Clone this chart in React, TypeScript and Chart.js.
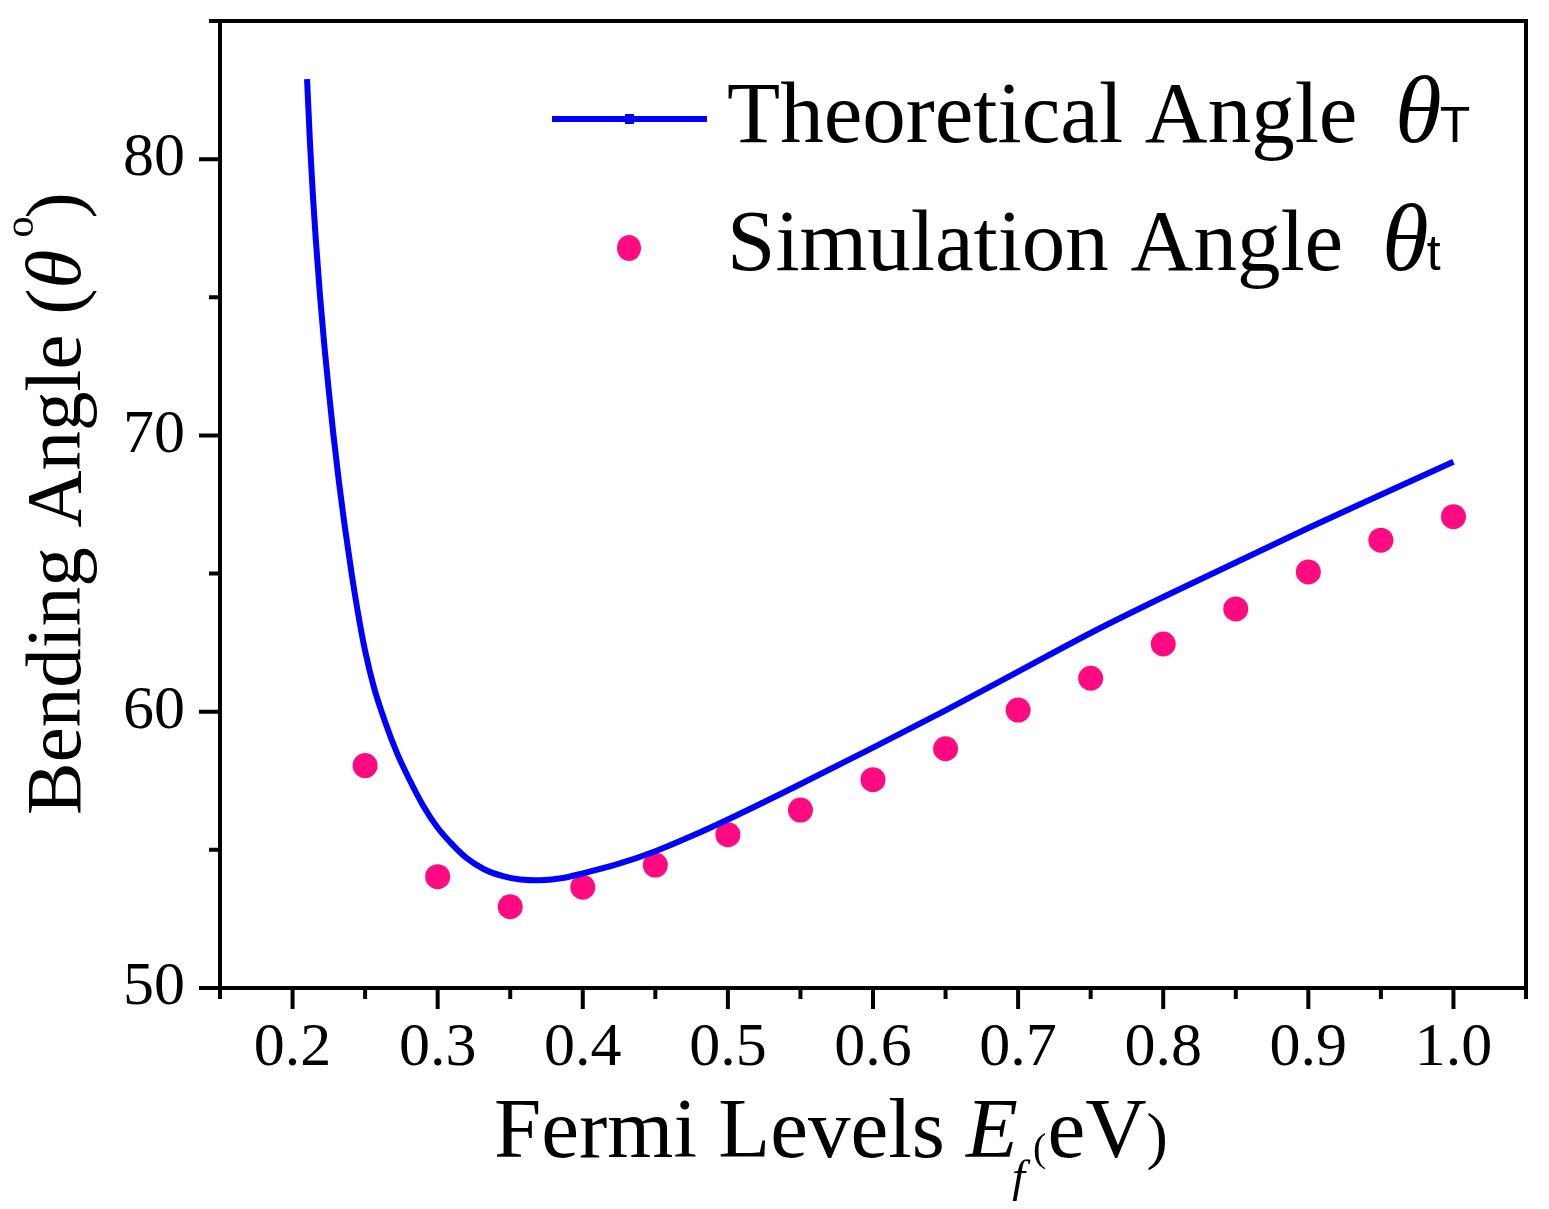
import React, { useEffect, useRef } from "react";
import { Chart, registerables } from "chart.js";

Chart.register(...registerables);

// Theoretical curve (Fermi level, bending angle)
const theoX = [0.21, 0.212, 0.214, 0.216, 0.219, 0.222, 0.225, 0.228, 0.232, 0.236, 0.241, 0.246, 0.25, 0.256, 0.264, 0.272, 0.28, 0.29, 0.3, 0.31, 0.32, 0.332, 0.345, 0.357, 0.37, 0.385, 0.4, 0.425, 0.45, 0.475, 0.5, 0.545, 0.6, 0.65, 0.7, 0.75, 0.8, 0.85, 0.9, 0.95, 1.0];
const theoY = [82.9, 80.6, 78.7, 77.1, 75.0, 73.2, 71.6, 70.1, 68.3, 66.7, 64.9, 63.3, 62.2, 60.9, 59.6, 58.5, 57.6, 56.6, 55.8, 55.2, 54.7, 54.3, 54.05, 53.93, 53.9, 53.97, 54.15, 54.5, 54.95, 55.5, 56.1, 57.25, 58.7, 60.05, 61.45, 62.85, 64.15, 65.4, 66.65, 67.85, 69.05];

// Simulation points
const simX = [0.25, 0.3, 0.35, 0.4, 0.45, 0.5, 0.55, 0.6, 0.65, 0.7, 0.75, 0.8, 0.85, 0.9, 0.95, 1.0];
const simY = [58.05, 54.03, 52.94, 53.65, 54.45, 55.55, 56.44, 57.54, 58.66, 60.06, 61.21, 62.45, 63.72, 65.06, 66.21, 67.06];

// Ticks
const xTickValues = [0.2, 0.3, 0.4, 0.5, 0.6, 0.7, 0.8, 0.9, 1.0];
const xMinorValues = [0.15, 0.25, 0.35, 0.45, 0.55, 0.65, 0.75, 0.85, 0.95, 1.05];
const yTickValues = [50, 60, 70, 80];
const yMinorValues = [55, 65, 75, 85];

const SERIF = '"Liberation Serif", "Times New Roman", serif';
const SANS = '"Liberation Sans", Arial, sans-serif';

export default function App() {
  const ref = useRef<HTMLCanvasElement>(null);

  useEffect(() => {
    const canvas = ref.current;
    if (!canvas) return;

    const decorPlugin = {
      id: "decor",
      afterDraw(chart: any) {
        const { ctx, chartArea: a, scales } = chart;
        const xs = scales.x;
        const ys = scales.y;
        ctx.save();
        ctx.strokeStyle = "#000";
        ctx.lineWidth = 4;
        ctx.lineCap = "butt";
        // frame
        ctx.strokeRect(a.left, a.top, a.right - a.left, a.bottom - a.top);
        // ticks
        ctx.beginPath();
        xTickValues.forEach((v) => {
          const p = xs.getPixelForValue(v);
          ctx.moveTo(p, a.bottom);
          ctx.lineTo(p, a.bottom + 21);
        });
        xMinorValues.forEach((v) => {
          const p = xs.getPixelForValue(v);
          ctx.moveTo(p, a.bottom);
          ctx.lineTo(p, a.bottom + 11);
        });
        yTickValues.forEach((v) => {
          const p = ys.getPixelForValue(v);
          ctx.moveTo(a.left, p);
          ctx.lineTo(a.left - 21, p);
        });
        yMinorValues.forEach((v) => {
          const p = ys.getPixelForValue(v);
          ctx.moveTo(a.left, p);
          ctx.lineTo(a.left - 11, p);
        });
        ctx.stroke();

        ctx.fillStyle = "#000";
        ctx.textBaseline = "alphabetic";
        ctx.textAlign = "left";

        // X axis title
        {
          let x = 486;
          const base = 1149;
          ctx.font = `85px ${SERIF}`;
          ctx.fillText("Fermi Levels ", x, base);
          x += ctx.measureText("Fermi Levels ").width;
          ctx.font = `italic 85px ${SERIF}`;
          ctx.fillText("E", x, base);
          x += ctx.measureText("E").width;
          ctx.font = `italic 47px ${SERIF}`;
          ctx.fillText("f", x - 6, base + 35);
          x += ctx.measureText("f").width + 2;
          ctx.font = `40px ${SERIF}`;
          ctx.fillText("(", x, base + 4);
          x += ctx.measureText("(").width + 1;
          ctx.font = `85px ${SERIF}`;
          ctx.fillText("eV", x, base);
          x += ctx.measureText("eV").width;
          ctx.font = `64px ${SERIF}`;
          ctx.fillText(")", x, base);
        }

        // Y axis title (rotated)
        {
          ctx.save();
          ctx.translate(72, 807);
          ctx.rotate(-Math.PI / 2);
          let x = 0;
          ctx.font = `79px ${SERIF}`;
          ctx.fillText("Bending Angle (", x, 0);
          x += ctx.measureText("Bending Angle (").width;
          ctx.font = `italic 79px ${SERIF}`;
          ctx.fillText("\u03B8", x, 0);
          x += ctx.measureText("\u03B8").width + 12;
          ctx.font = `42px ${SERIF}`;
          ctx.fillText("o", x, -47);
          x += ctx.measureText("o").width - 2;
          ctx.font = `79px ${SERIF}`;
          ctx.fillText(")", x, 0);
          ctx.restore();
        }

        // Legend
        {
          ctx.strokeStyle = "#0000FF";
          ctx.lineWidth = 6;
          ctx.beginPath();
          ctx.moveTo(544, 111);
          ctx.lineTo(699, 111);
          ctx.stroke();
          ctx.fillStyle = "#0000FF";
          ctx.fillRect(617, 106, 9, 10);
          ctx.fillStyle = "#FF0A80";
          ctx.beginPath();
          ctx.ellipse(621, 240, 12, 13, 0, 0, Math.PI * 2);
          ctx.fill();

          ctx.fillStyle = "#000";
          const rows: [string, string, number, number][] = [
            ["Theoretical Angle ", "T", 134, 1387],
            ["Simulation Angle ", "t", 262, 1374],
          ];
          rows.forEach(([txt, sub, base, thetaX]) => {
            ctx.font = `87px ${SERIF}`;
            ctx.fillText(txt, 719, base);
            let x = Math.max(thetaX, 719 + ctx.measureText(txt).width);
            ctx.font = `italic 95px ${SERIF}`;
            ctx.fillText("\u03B8", x, base);
            x += ctx.measureText("\u03B8").width - 2;
            ctx.font = `50px ${SANS}`;
            ctx.fillText(sub, x, base);
          });
        }
        ctx.restore();
      },
    };

    const chart = new Chart(canvas, {
      type: "scatter",
      data: {
        datasets: [
          {
            label: "Theoretical Angle θT",
            data: theoX.map((x, i) => ({ x, y: theoY[i] })),
            showLine: true,
            borderColor: "#0000FF",
            backgroundColor: "#0000FF",
            borderWidth: 6,
            pointRadius: 0,
            cubicInterpolationMode: "monotone",
            fill: false,
          },
          {
            label: "Simulation Angle θt",
            data: simX.map((x, i) => ({ x, y: simY[i] })),
            showLine: false,
            pointRadius: 12.5,
            pointBackgroundColor: "#FF0A80",
            pointBorderWidth: 0,
            pointBorderColor: "#FF0A80",
          },
        ],
      },
      options: {
        animation: false,
        responsive: false,
        devicePixelRatio: 1,
        layout: { padding: { top: 13, right: 15, left: 0, bottom: 0 } },
        plugins: { legend: { display: false }, tooltip: { enabled: false } },
        scales: {
          x: {
            type: "linear",
            min: 0.15,
            max: 1.05,
            grid: { display: false, drawTicks: false },
            border: { display: false },
            afterBuildTicks: (s: any) => {
              s.ticks = xTickValues.map((v) => ({ value: v }));
            },
            afterFit: (s: any) => {
              s.height = 213;
              s.paddingLeft = 0;
              s.paddingRight = 0;
            },
            ticks: {
              callback: (v: any) => Number(v).toFixed(1),
              font: { family: SERIF, size: 62 },
              color: "#000",
              padding: 24,
              maxRotation: 0,
              autoSkip: false,
            },
          },
          y: {
            type: "linear",
            min: 50,
            max: 85,
            grid: { display: false, drawTicks: false },
            border: { display: false },
            afterBuildTicks: (s: any) => {
              s.ticks = yTickValues.map((v) => ({ value: v }));
            },
            afterFit: (s: any) => {
              s.width = 212;
              s.paddingTop = 0;
              s.paddingBottom = 0;
            },
            ticks: {
              callback: (v: any) => String(v),
              font: { family: SERIF, size: 62 },
              color: "#000",
              padding: 35,
              autoSkip: false,
            },
          },
        },
      },
      plugins: [decorPlugin],
    } as any);

    return () => chart.destroy();
  }, []);

  return (
    <div style={{ width: 1533, height: 1193, background: "#fff" }}>
      <canvas ref={ref} width={1533} height={1193} style={{ display: "block" }} />
    </div>
  );
}
